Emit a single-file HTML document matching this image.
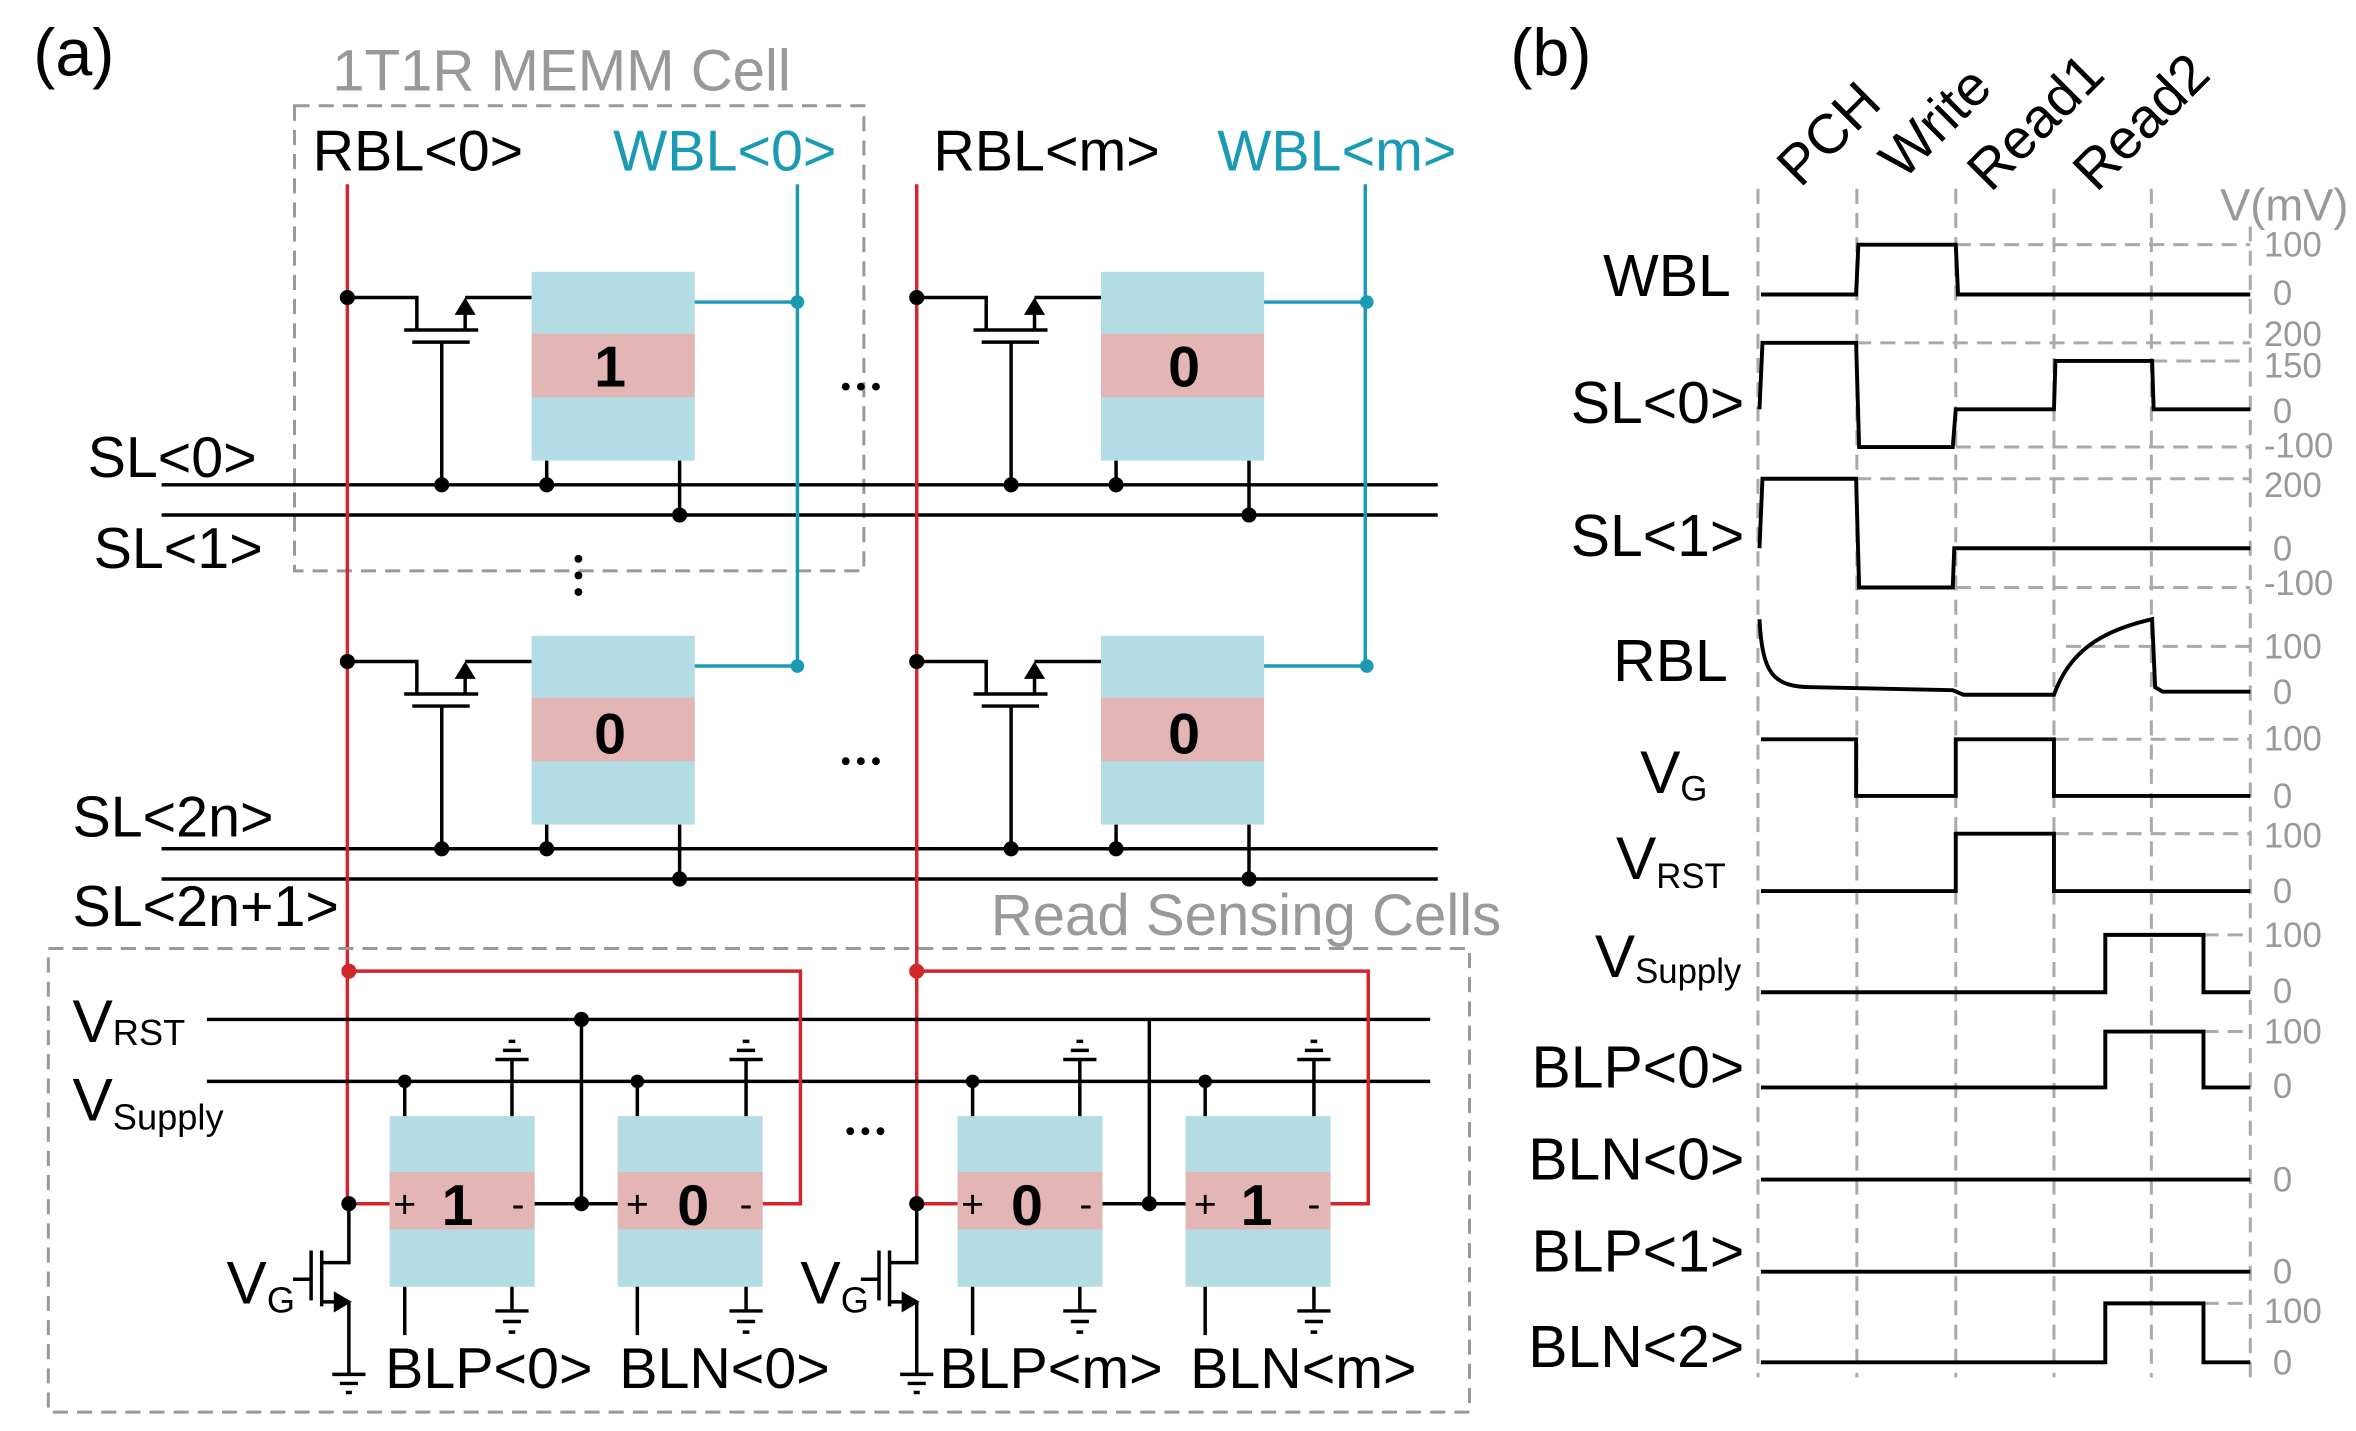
<!DOCTYPE html>
<html><head><meta charset="utf-8"><style>
html,body{margin:0;padding:0;background:#fff;}
svg{display:block;}
text{font-family:"Liberation Sans",Arial,sans-serif;}
</style></head><body>
<svg width="2356" height="1431" viewBox="0 0 1560 947.5" preserveAspectRatio="none" xmlns="http://www.w3.org/2000/svg">
<defs>
<g id="cell">
  <path d="M0,0 H46 V21.5 M37.6,21.5 H86.6 M43,29.5 H81 M62.5,29.5 V124 M78,21.5 V6 M78,0 H122" fill="none" stroke="#000" stroke-width="2.3"/>
  <polygon points="78,0 71,11.5 85,11.5" fill="#000"/>
  <rect x="122" y="-17" width="108" height="125" fill="#b3dce5"/>
  <rect x="122" y="24" width="108" height="42" fill="#e3b5b5"/>
  <path d="M132,108 V124 M220,108 V144" stroke="#000" stroke-width="2.3"/>
  <circle cx="0" cy="0" r="5" fill="#000"/>
  <circle cx="62.5" cy="124" r="5" fill="#000"/>
  <circle cx="132" cy="124" r="5" fill="#000"/>
  <circle cx="220" cy="144" r="5" fill="#000"/>
  <path d="M230,3 H298" stroke="#1a9bb3" stroke-width="2.3"/>
  <circle cx="298" cy="3" r="4.5" fill="#1a9bb3"/>
</g>
<g id="gtop">
  <path d="M0,739 V701.5 M-11,701.5 H11 M-6,695.5 H6 M-2.2,689.5 H2.2" stroke="#000" stroke-width="2.3"/>
</g>
<g id="gbot">
  <path d="M0,852 V868 M-11,868 H11 M-6,875 H6 M-2.2,882 H2.2" stroke="#000" stroke-width="2.3"/>
</g>
<g id="sense">
  <path d="M231,643 H530 V797 H505 M231,797 H258" fill="none" stroke="#d0262c" stroke-width="2.3"/>
  <circle cx="231" cy="643" r="5" fill="#d0262c"/>
  <rect x="258" y="739" width="96" height="113" fill="#b3dce5"/>
  <rect x="258" y="776" width="96" height="38" fill="#e3b5b5"/>
  <rect x="409" y="739" width="96" height="113" fill="#b3dce5"/>
  <rect x="409" y="776" width="96" height="38" fill="#e3b5b5"/>
  <path d="M354,797 H409 M385,675 V797 M268,716 V739 M422,716 V739 M268,852 V884 M422,852 V884" stroke="#000" stroke-width="2.3"/>
  <circle cx="385" cy="797" r="5" fill="#000"/>
  <circle cx="268" cy="716" r="4.5" fill="#000"/>
  <circle cx="422" cy="716" r="4.5" fill="#000"/>
  <use href="#gtop" x="339"/><use href="#gtop" x="494"/>
  <use href="#gbot" x="339"/><use href="#gbot" x="494"/>
  <text x="268" y="806" font-size="26" text-anchor="middle">+</text>
  <text x="343" y="806" font-size="26" text-anchor="middle">-</text>
  <text x="422" y="806" font-size="26" text-anchor="middle">+</text>
  <text x="494" y="806" font-size="26" text-anchor="middle">-</text>
  <path d="M231,797 V836 H213 M213,828 V865 M206,828 V861 M194,847 H206 M213,862 H224 M231,862 V910 M220,910 H242 M225,916 H237 M229,922 H233" fill="none" stroke="#000" stroke-width="2.3"/>
  <polygon points="233,862 221,855 221,869" fill="#000"/>
  <circle cx="231" cy="797" r="5" fill="#000"/>
</g>
</defs>

<text x="22" y="50" font-size="44">(a)</text>
<text x="220" y="60" font-size="38.5" fill="#999">1T1R MEMM Cell</text>
<rect x="195" y="70" width="377" height="308" fill="none" stroke="#999" stroke-width="2" stroke-dasharray="10,6"/>
<text x="207" y="113" font-size="38">RBL&lt;0&gt;</text>
<text x="406" y="113" font-size="38" fill="#1a9bb3">WBL&lt;0&gt;</text>
<text x="618" y="113" font-size="38">RBL&lt;m&gt;</text>
<text x="806" y="113" font-size="38" fill="#1a9bb3">WBL&lt;m&gt;</text>

<path d="M107,321 H952 M107,341 H952 M107,562 H952 M107,582 H952" stroke="#000" stroke-width="2.3"/>
<text x="58" y="316" font-size="38">SL&lt;0&gt;</text>
<text x="62" y="376" font-size="38">SL&lt;1&gt;</text>
<text x="48" y="554" font-size="38">SL&lt;2n&gt;</text>
<text x="48" y="613" font-size="38">SL&lt;2n+1&gt;</text>

<path d="M230,122 V797 M607,122 V797" stroke="#d0262c" stroke-width="2.3"/>
<path d="M528,122 V440 M904,122 V440" stroke="#1a9bb3" stroke-width="2.3"/>

<use href="#cell" x="230" y="197"/>
<use href="#cell" x="607" y="197"/>
<use href="#cell" x="230" y="438"/>
<use href="#cell" x="607" y="438"/>

<text x="404" y="256" font-size="38" font-weight="bold" text-anchor="middle">1</text>
<text x="784" y="256" font-size="38" font-weight="bold" text-anchor="middle">0</text>
<text x="404" y="499" font-size="38" font-weight="bold" text-anchor="middle">0</text>
<text x="784" y="499" font-size="38" font-weight="bold" text-anchor="middle">0</text>

<g fill="#000">
<circle cx="560" cy="256" r="2.6"/><circle cx="570" cy="256" r="2.6"/><circle cx="580" cy="256" r="2.6"/>
<circle cx="560" cy="504" r="2.6"/><circle cx="570" cy="504" r="2.6"/><circle cx="580" cy="504" r="2.6"/>
<circle cx="563" cy="749" r="2.6"/><circle cx="573" cy="749" r="2.6"/><circle cx="583" cy="749" r="2.6"/>
<circle cx="383" cy="370" r="2.6"/><circle cx="383" cy="381" r="2.6"/><circle cx="383" cy="392" r="2.6"/>
</g>

<text x="656" y="619" font-size="38.5" fill="#999">Read Sensing Cells</text>
<rect x="32" y="628" width="941" height="307" fill="none" stroke="#999" stroke-width="2" stroke-dasharray="10,6"/>
<path d="M137,675 H947 M137,716 H947" stroke="#000" stroke-width="2.3"/>
<circle cx="385" cy="675" r="5" fill="#000"/>
<text x="48" y="690" font-size="40">V<tspan font-size="24" dy="2">RST</tspan></text>
<text x="48" y="742" font-size="40">V<tspan font-size="24" dy="6">Supply</tspan></text>
<use href="#sense"/>
<use href="#sense" x="376"/>
<text x="303" y="811" font-size="38" font-weight="bold" text-anchor="middle">1</text>
<text x="459" y="811" font-size="38" font-weight="bold" text-anchor="middle">0</text>
<text x="680" y="811" font-size="38" font-weight="bold" text-anchor="middle">0</text>
<text x="832" y="811" font-size="38" font-weight="bold" text-anchor="middle">1</text>
<text x="150" y="863" font-size="40">V<tspan font-size="24" dy="6">G</tspan></text>
<text x="530" y="863" font-size="40">V<tspan font-size="24" dy="6">G</tspan></text>
<text x="255" y="919" font-size="38">BLP&lt;0&gt;</text>
<text x="410" y="919" font-size="38">BLN&lt;0&gt;</text>
<text x="622" y="919" font-size="38">BLP&lt;m&gt;</text>
<text x="788" y="919" font-size="38">BLN&lt;m&gt;</text>

<text x="1000" y="50" font-size="44">(b)</text>
<g font-size="37">
<text transform="translate(1192,125) rotate(-45)">PCH</text>
<text transform="translate(1260,120) rotate(-45)">Write</text>
<text transform="translate(1318,128) rotate(-45)">Read1</text>
<text transform="translate(1388,128) rotate(-45)">Read2</text>
</g>
<text x="1470" y="146" font-size="30" fill="#999">V(mV)</text>

<g stroke="#aaa" stroke-width="2" stroke-dasharray="10,6" fill="none">
<path d="M1164,125 V912 M1229.5,125 V912 M1295,125 V912 M1360,125 V912 M1424.5,125 V912 M1490,150 V912"/>
<path d="M1295,162 H1490 M1229,227 H1490 M1425,239 H1490 M1295,296 H1490 M1229,317 H1490 M1295,389 H1490 M1368,428 H1490 M1360,489.5 H1490 M1360,552 H1490 M1459,619 H1490 M1459,683 H1490 M1459,863 H1490"/>
</g>

<g stroke="#000" stroke-width="2.6" fill="none">
<path d="M1166,195 H1229 L1230.5,162 H1295 L1296.5,195 H1490"/>
<path d="M1165,271 L1167,227 H1229 L1231,296 H1293 L1295,271 H1360 L1361,239 H1425 L1426,271 H1490"/>
<path d="M1165,363 L1167,317 H1229 L1231,389 H1293 L1294,363 H1490"/>
<path d="M1165,410 C1167,445 1173,455 1200,455 L1293,457 L1300,460 L1360,460 C1370,432 1390,418 1425,410 L1427,455 L1432,458 L1490,458"/>
<path d="M1166,489.5 H1229 V527 H1295 V489.5 H1360 V527 H1490"/>
<path d="M1166,590 H1295 V552 H1360 V590 H1490"/>
<path d="M1166,657 H1394 V619 H1459 V657 H1490"/>
<path d="M1166,720 H1394 V683 H1459 V720 H1490"/>
<path d="M1166,781 H1490"/>
<path d="M1166,842 H1490"/>
<path d="M1166,902 H1394 V863 H1459 V902 H1490"/>
</g>

<g font-size="23" fill="#999">
<text x="1499" y="170">100</text><text x="1505" y="202">0</text>
<text x="1499" y="229">200</text><text x="1499" y="250">150</text><text x="1505" y="280">0</text><text x="1499" y="303">-100</text>
<text x="1499" y="329">200</text><text x="1505" y="371">0</text><text x="1499" y="394">-100</text>
<text x="1499" y="436">100</text><text x="1505" y="466">0</text>
<text x="1499" y="497">100</text><text x="1505" y="535">0</text>
<text x="1499" y="561">100</text><text x="1505" y="598">0</text>
<text x="1499" y="627">100</text><text x="1505" y="664">0</text>
<text x="1499" y="691">100</text><text x="1505" y="727">0</text>
<text x="1505" y="789">0</text>
<text x="1505" y="850">0</text>
<text x="1499" y="876">100</text><text x="1505" y="910">0</text>
</g>

<g font-size="39" text-anchor="end">
<text x="1146" y="196">WBL</text>
<text x="1155" y="280">SL&lt;0&gt;</text>
<text x="1155" y="368">SL&lt;1&gt;</text>
<text x="1144" y="451">RBL</text>
<text x="1155" y="720">BLP&lt;0&gt;</text>
<text x="1155" y="781">BLN&lt;0&gt;</text>
<text x="1155" y="842">BLP&lt;1&gt;</text>
<text x="1155" y="905">BLN&lt;2&gt;</text>
</g>
<text x="1086" y="525" font-size="40">V<tspan font-size="23" dy="5">G</tspan></text>
<text x="1070" y="582" font-size="40">V<tspan font-size="23" dy="6">RST</tspan></text>
<text x="1056" y="647" font-size="40">V<tspan font-size="23" dy="4">Supply</tspan></text>
</svg>
</body></html>
